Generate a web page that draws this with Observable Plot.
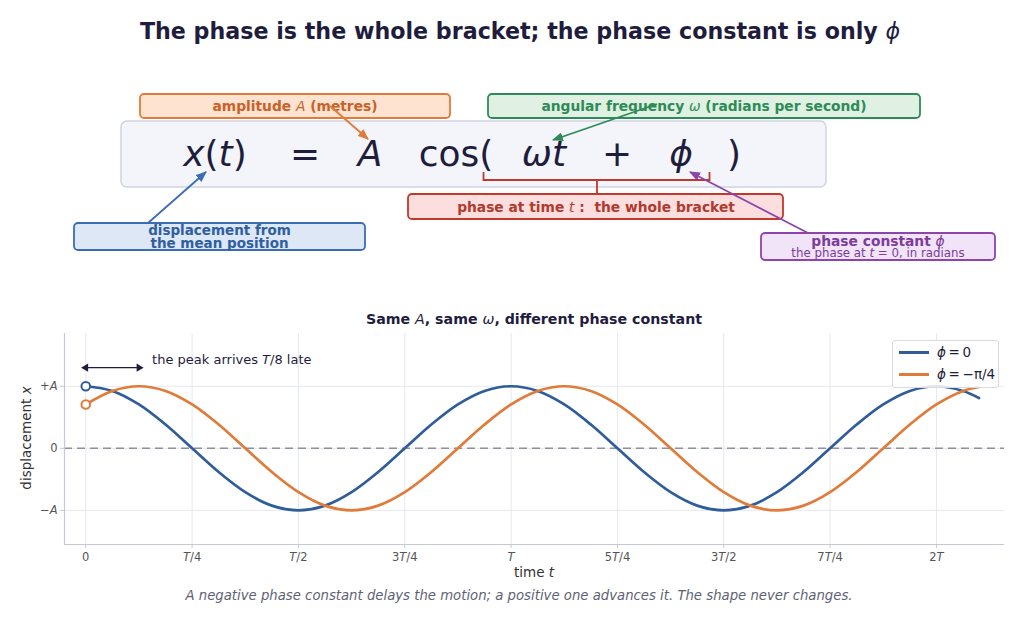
<!DOCTYPE html>
<html><head><meta charset="utf-8">
<script src="https://cdn.jsdelivr.net/npm/d3@7"></script>
<script src="https://cdn.jsdelivr.net/npm/@observablehq/plot@0.6"></script>
<style>
body{margin:0;background:#fff;font-family:"DejaVu Sans",sans-serif;}
#wrap{position:relative;width:1024px;height:623px;overflow:hidden;background:#fff;}
.abs{position:absolute;white-space:nowrap;}
</style></head><body><div id="wrap"></div>
<script>
// ---- data ----
const tValues = [0,0.0625,0.125,0.1875,0.25,0.3125,0.375,0.4375,0.5,0.5625,0.625,0.6875,0.75,0.8125,0.875,0.9375,1,
  1.0625,1.125,1.1875,1.25,1.3125,1.375,1.4375,1.5,1.5625,1.625,1.6875,1.75,1.8125,1.875,1.9375,2,2.0625,2.1];
const bluePhi0 = [1,0.924,0.707,0.383,0,-0.383,-0.707,-0.924,-1,-0.924,-0.707,-0.383,0,0.383,0.707,0.924,1,
  0.924,0.707,0.383,0,-0.383,-0.707,-0.924,-1,-0.924,-0.707,-0.383,0,0.383,0.707,0.924,1,0.924,0.81];
const orangePhiMinusQuarterPi = [0.707,0.924,1,0.924,0.707,0.383,0,-0.383,-0.707,-0.924,-1,-0.924,-0.707,-0.383,0,0.383,0.707,
  0.924,1,0.924,0.707,0.383,0,-0.383,-0.707,-0.924,-1,-0.924,-0.707,-0.383,0,0.383,0.707,0.924,0.988];
const seriesNames = ["ϕ = 0", "ϕ = −π/4"];
const seriesColors = ["#2f5d9b", "#e07b39"];
const xTicks = [0,0.25,0.5,0.75,1,1.25,1.5,1.75,2];
const xTickLabels = ["0","T/4","T/2","3T/4","T","5T/4","3T/2","7T/4","2T"];
const yTicks = [-1,0,1];
const yTickLabels = ["−A","0","+A"];
const xDomain = [-0.05, 2.16];
const yDomain = [-1.55, 1.85];
const lateArrow = [{t0:0, t1:0.125, y:1.30}];
const lateNote = [{t:0.156, y:1.43, text:"the peak arrives T/8 late"}];

const wrap = document.getElementById("wrap");
function addDiv(html, css){ const d=document.createElement("div"); d.className="abs"; d.innerHTML=html; d.style.cssText+=css; wrap.appendChild(d); return d; }

// title
addDiv('The phase is the whole bracket; the phase constant is only <i style="font-weight:normal">ϕ</i>',
  'left:0;width:1040px;text-align:center;top:18px;font-size:22.2px;font-weight:bold;color:#1f1d3d;');

// ---- equation diagram ----
const diag = d3.select(wrap).append("svg").attr("class","abs").attr("width",1024).attr("height",300)
  .style("left","0px").style("top","0px").style("font-family","DejaVu Sans");
const defs = diag.append("defs");
function marker(id,color){
  defs.append("marker").attr("id",id).attr("markerUnits","userSpaceOnUse").attr("markerWidth",11).attr("markerHeight",9)
   .attr("refX",10).attr("refY",4.5).attr("orient","auto")
   .append("path").attr("d","M0,0 L11,4.5 L0,9 z").attr("fill",color);
}
function box(x,y,w,h,fill,stroke,r=4,sw=1.8){
  diag.append("rect").attr("x",x).attr("y",y).attr("width",w).attr("height",h).attr("rx",r)
    .attr("fill",fill).attr("stroke",stroke).attr("stroke-width",sw);
}
function label(x,y,lines,color){
  const t=diag.append("text").attr("x",x).attr("y",y).attr("text-anchor","middle").attr("dominant-baseline","central")
    .attr("fill",color).style("white-space","pre");
  lines.forEach((ln,li)=>{
    ln.parts.forEach((p,pi)=>{
      const s=t.append("tspan").text(typeof p==="string"?p:p.i)
        .attr("font-size",ln.size||13.8).attr("font-weight",ln.weight||"bold");
      if(pi===0 && li>0) s.attr("x",x).attr("dy",ln.dy);
      if(typeof p!=="string") s.attr("font-style","italic").attr("font-weight","normal");
    });
  });
}
function arrow(x1,y1,x2,y2,color,id){
  marker(id,color);
  diag.append("line").attr("x1",x1).attr("y1",y1).attr("x2",x2).attr("y2",y2).attr("stroke",color).attr("stroke-width",1.8)
    .attr("marker-end",`url(#${id})`);
}
// main equation box
box(121,121,705,66,"#f3f5fa","#cfd3e3",6,1.5);
const eqY = 166, eqSize = 36, ink="#1f1d3d";
function eq(x,parts){
  const t=diag.append("text").attr("x",x).attr("y",eqY).attr("text-anchor","middle").attr("font-size",eqSize).attr("fill",ink);
  parts.forEach(p=>{ const s=t.append("tspan").text(typeof p==="string"?p:p.i); if(typeof p!=="string") s.attr("font-style","italic"); });
}
eq(215,[{i:"x"},"(",{i:"t"},")"]);
eq(305,["="]);
eq(370,[{i:"A"}]);
eq(456,["cos("]);
eq(544,[{i:"ωt"}]);
eq(617,["+"]);
eq(681,[{i:"ϕ"}]);
eq(734,[")"]);
// bracket
const red="#c0392b";
diag.append("path").attr("d","M483.5,172 V180 H709.5 V172 M597,180 V194").attr("fill","none").attr("stroke",red).attr("stroke-width",1.8);

// label boxes
box(140,94,310,24,"#fde3d0","#e07b39");
label(295,106,[{parts:["amplitude ",{i:"A"}," (metres)"]}],"#c9612a");
box(488,94,432,24,"#e0f0e2","#2e8b57");
label(704,106,[{parts:["angular frequency ",{i:"ω"}," (radians per second)"]}],"#2e8b57");
box(408,194,375,25,"#fcdede",red);
label(596,206.5,[{parts:["phase at time ",{i:"t"},"\u00a0:\u00a0\u00a0the whole bracket"]}],"#b03a2e");
box(74,223,291,27,"#dde7f6","#3a6db5");
label(219.5,230,[{parts:["displacement from"],size:13.5},{parts:["the mean position"],dy:12.5,size:13.5}],"#2f5f9f");
box(761,233,234,27,"#f1e3f8","#8e44ad");
label(878,240.5,[{parts:["phase constant ",{i:"ϕ"}]},{parts:["the phase at ",{i:"t"},"\u00a0=\u00a00, in radians"],dy:12.5,size:11.8,weight:"normal"}],"#7d3c98");

// arrows
arrow(330,106,368,139,"#e07b39","mo");
arrow(657,104,553,140,"#2e8b57","mg");
arrow(148,223,206,172,"#3a6db5","mb");
arrow(808,233,690,172,"#8e44ad","mp");

// ---- lower plot ----
const rows = [];
tValues.forEach((t,i)=>{ rows.push({t, x:bluePhi0[i], s:seriesNames[0]}); });
tValues.forEach((t,i)=>{ rows.push({t, x:orangePhiMinusQuarterPi[i], s:seriesNames[1]}); });
const starts = [{t:tValues[0], x:bluePhi0[0], s:seriesNames[0]}, {t:tValues[0], x:orangePhiMinusQuarterPi[0], s:seriesNames[1]}];
const heads = [{t:lateArrow[0].t0, y:lateArrow[0].y, rot:-90},{t:lateArrow[0].t1, y:lateArrow[0].y, rot:90}];
const spine = "#c6c9d3", grid="#e6e8ef";

const chart = Plot.plot({
  width:1024, height:280, marginTop:33, marginBottom:36, marginLeft:64, marginRight:20,
  style:{fontFamily:"DejaVu Sans", fontSize:"11.5px", color:"#555", background:"transparent"},
  x:{domain:xDomain}, y:{domain:yDomain},
  color:{domain:seriesNames, range:seriesColors},
  marks:[
    Plot.gridX(xTicks,{stroke:grid, strokeOpacity:1, strokeWidth:1}),
    Plot.gridY(yTicks,{stroke:grid, strokeOpacity:1, strokeWidth:1}),
    Plot.ruleY([0],{stroke:"#8e909c", strokeDasharray:"8,5", strokeWidth:1.4}),
    Plot.ruleX([xDomain[0]],{stroke:spine, strokeWidth:1.2}),
    Plot.ruleY([yDomain[0]],{stroke:spine, strokeWidth:1.2}),
    Plot.axisX(xTicks,{tickFormat:d=>xTickLabels[xTicks.indexOf(d)], tickSize:4, tickPadding:4, stroke:spine, fill:"#555", label:null}),
    Plot.axisY(yTicks,{tickFormat:d=>yTickLabels[yTicks.indexOf(d)], tickSize:4, tickPadding:3, stroke:spine, fill:"#555", label:null}),
    Plot.line(rows,{x:"t", y:"x", z:"s", stroke:"s", strokeWidth:2.7, curve:"catmull-rom"}),
    Plot.dot(starts,{x:"t", y:"x", stroke:"s", fill:"white", r:4.3, strokeWidth:2}),
    Plot.link(lateArrow,{x1:"t0", x2:"t1", y1:"y", y2:"y", stroke:"#1f1d3d", strokeWidth:1.3}),
    Plot.dot(heads,{x:"t", y:"y", symbol:"triangle", rotate:"rot", fill:"#1f1d3d", stroke:"none", r:3}),
    Plot.text(lateNote,{x:"t", y:"y", text:"text", textAnchor:"start", fontSize:13, fill:"#1f1d3d"})
  ]
});
chart.classList.add("abs");
chart.style.left="0px"; chart.style.top="300px";
wrap.appendChild(chart);

// italicise math letters in texts
d3.select(chart).selectAll("text").each(function(){
  const s=this.textContent;
  if(!/[TA]/.test(s) || this.querySelector("tspan")) return;
  const el=d3.select(this); el.text("");
  const isNote = s.startsWith("the peak");
  let buf="";
  for(let i=0;i<s.length;i++){
    const ch=s[i];
    const it = isNote ? (ch==="T" && s[i+1]==="/") : /[TA]/.test(ch);
    if(it){ if(buf){el.append("tspan").text(buf);buf="";} el.append("tspan").attr("font-style","italic").text(ch); }
    else buf+=ch;
  }
  if(buf) el.append("tspan").text(buf);
});

// subtitle, axis labels, legend, caption
addDiv('Same <i style="font-weight:normal">A</i>, same <i style="font-weight:normal">ω</i>, different phase constant',
  'left:64px;width:940px;text-align:center;top:311px;font-size:14.2px;font-weight:bold;color:#1f1d3d;');
addDiv('time <i>t</i>','left:64px;width:940px;text-align:center;top:564px;font-size:13.5px;color:#333;');
addDiv('displacement <i>x</i>','left:-34px;width:120px;text-align:center;top:430px;font-size:13.5px;color:#333;transform:rotate(-90deg);');
addDiv('A negative phase constant delays the motion; a positive one advances it. The shape never changes.',
  'left:0;width:1038px;text-align:center;top:588px;font-size:13.25px;font-style:italic;color:#5d6273;');
const leg = addDiv('', 'left:892px;top:340px;width:105px;height:46px;border:1px solid #d9dbe3;border-radius:3px;background:rgba(255,255,255,0.85);');
seriesNames.forEach((n,i)=>{
  const row=document.createElement("div");
  row.style.cssText=`position:absolute;left:6px;top:${2+i*22}px;height:18px;display:flex;align-items:center;font-size:13.5px;color:#1f1d3d;`;
  const parts = n.split(" = ");
  row.innerHTML=`<span style="display:inline-block;width:30px;height:3px;background:${seriesColors[i]};margin-right:8px"></span><i>ϕ</i>&thinsp;=&thinsp;${parts[1]}`;
  leg.appendChild(row);
});
</script></body></html>
